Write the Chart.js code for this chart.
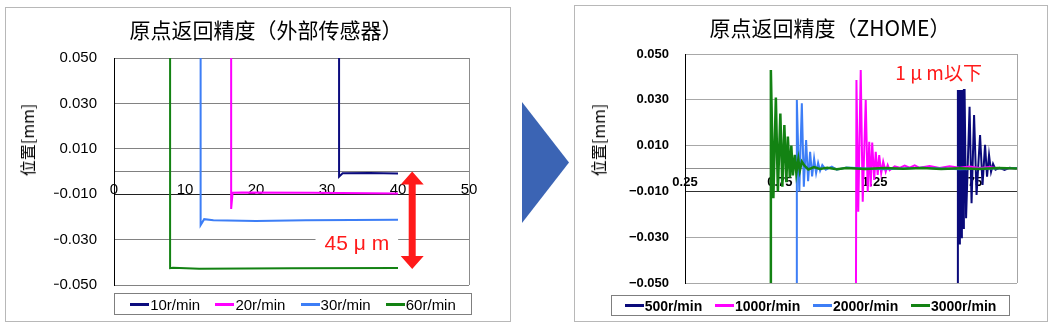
<!DOCTYPE html>
<html>
<head>
<meta charset="utf-8">
<script src="https://cdn.jsdelivr.net/npm/chart.js@4.4.1/dist/chart.umd.min.js"></script>
<style>
  html, body { margin: 0; padding: 0; background: #fff; }
  body { width: 1052px; height: 323px; position: relative; overflow: hidden; font-family: "Liberation Sans", Arial, sans-serif; }
  .panel { position: absolute; box-sizing: border-box; border: 1px solid #b8b8b8; }
  .title { position: absolute; text-align: center; font-family: "Noto Sans CJK SC", sans-serif; font-size: 21px; line-height: 24px; color: #000; white-space: nowrap; }
  .ytitle { position: absolute; font-family: "Noto Sans CJK SC", sans-serif; font-size: 16px; line-height: 16px; transform: translate(-50%, -50%) rotate(-90deg); white-space: nowrap; }
  .legend { position: absolute; box-sizing: border-box; border: 1px solid #7f7f7f; display: flex; justify-content: space-evenly; align-items: center; color: #000; }
  .legend .item { display: flex; align-items: center; white-space: nowrap; }
  .legend i { display: inline-block; width: 19px; height: 3px; margin-right: 1px; }
  canvas { position: absolute; top: 0; }
  .arrow { position: absolute; left: 522px; top: 102px; width: 47px; height: 121px; background: #3b64b4; clip-path: polygon(0 0, 100% 50%, 0 100%); }
</style>
</head>
<body>
<div class="panel" style="left:5px;top:7px;width:506px;height:315px;"></div>
<div class="panel" style="left:574px;top:5px;width:474px;height:317px;"></div>
<div class="arrow"></div>

<canvas id="leftChart" width="520" height="323" style="left:0;"></canvas>
<canvas id="rightChart" width="482" height="323" style="left:570px;"></canvas>

<div class="title" style="left:0;width:532px;top:17px;">原点返回精度（外部传感器）</div>
<div class="title" style="left:630px;width:400px;top:15px;">原点返回精度（ZHOME）</div>
<div class="ytitle" style="left:27px;top:140px;">位置[mm]</div>
<div class="ytitle" style="left:598px;top:140px;">位置[mm]</div>

<div class="legend" id="leftLegend" style="left:114px;top:293px;width:358px;height:22px;font-size:15px;"></div>
<div class="legend" id="rightLegend" style="left:611px;top:295px;width:399px;height:21px;font-size:14px;font-weight:bold;"></div>

<script>
// ---- left chart (external sensor) ----
const leftNames = ['10r/min', '20r/min', '30r/min', '60r/min'];
const leftColors = ['#0c0c7e', '#ff00ff', '#3d7ef6', '#138213'];
const xL10 = [31.7, 31.7, 32.2, 36, 40];
const yL10 = [0.06, -0.0023, -0.0008, -0.0007, -0.0009];
const xL20 = [16.5, 16.5, 16.7, 18, 28, 40];
const yL20 = [0.06, -0.0165, -0.0094, -0.0093, -0.0094, -0.0097];
const xL30 = [12.2, 12.2, 12.7, 14, 20, 27, 40];
const yL30 = [0.06, -0.0236, -0.021, -0.0215, -0.0218, -0.0215, -0.0213];
const xL60 = [7.9, 7.9, 8.3, 12, 25, 40];
const yL60 = [0.06, -0.0426, -0.0424, -0.0428, -0.0426, -0.0425];

// ---- right chart (ZHOME) ----
const rightNames = ['500r/min', '1000r/min', '2000r/min', '3000r/min'];
const rightColors = ['#0a0a7a', '#ff00ff', '#3d7ef6', '#138213'];
const xR500 = [1.6858, 1.6884, 1.6911, 1.6937, 1.6963, 1.6989, 1.7016, 1.7042, 1.7068, 1.7095, 1.7121, 1.7147, 1.7174, 1.72, 1.7237, 1.7316, 1.75, 1.7605, 1.7737, 1.7868, 1.8053, 1.8184, 1.8316, 1.8421, 1.8526, 1.8632, 1.8737, 1.8868, 1.9079, 1.9342, 1.9605, 1.9974];
const yR500 = [-0.06, 0.0343, -0.02, 0.0343, -0.0327, 0.0343, -0.015, 0.0343, -0.03, 0.0343, -0.01, 0.0343, -0.026, 0.0343, 0.0343, -0.0217, 0.027, -0.0152, 0.0234, -0.0116, 0.0146, -0.0072, 0.0103, -0.0036, 0.0059, -0.0014, 0.002, -0.0005, 0.0003, -0.0006, 0.0003, 0.0];
const xR1000 = [1.151, 1.1537, 1.1632, 1.1763, 1.1868, 1.2026, 1.2132, 1.2211, 1.2289, 1.2368, 1.2474, 1.2553, 1.2658, 1.2737, 1.2842, 1.2947, 1.3079, 1.3184, 1.3289, 1.3553, 1.3816, 1.4079, 1.4342, 1.4605, 1.4868, 1.5395, 1.5921, 1.6447, 1.6974, 1.75, 1.8026, 1.8553, 1.9, 2.0];
const yR1000 = [-0.06, 0.0386, -0.0189, 0.043, -0.0145, 0.0299, -0.0101, 0.0117, -0.008, 0.0113, -0.005, 0.0073, -0.0028, 0.0059, -0.002, 0.003, -0.0014, 0.0015, -0.0007, 0.0009, 0.0003, 0.0013, 0.0004, 0.0014, 0.0003, 0.0011, 0.0002, 0.001, 0.0003, 0.0009, 0.0002, 0.0006, 0.0001, 0.0001];
const xR2000 = [0.8374, 0.8395, 0.8526, 0.8658, 0.8763, 0.8884, 0.8989, 0.9095, 0.92, 0.9305, 0.9411, 0.9516, 0.9621, 0.9737, 0.9921, 1.0237, 1.05, 1.1, 1.3, 1.5, 1.7, 2.0];
const yR2000 = [-0.06, 0.0299, -0.01, 0.0285, -0.008, 0.0124, -0.0055, 0.0073, -0.0035, 0.0044, -0.002, 0.0025, -0.001, 0.0015, -0.0005, 0.0008, -0.0005, 0.0004, -0.0003, 0.0003, -0.0003, 0.0002];
const xR3000 = [0.7, 0.7026, 0.7158, 0.7289, 0.7395, 0.7526, 0.7632, 0.7737, 0.7842, 0.7921, 0.8026, 0.8105, 0.8184, 0.8289, 0.8368, 0.8474, 0.8553, 0.8658, 0.88, 0.9, 0.93, 0.96, 1.0, 1.05, 1.1, 1.2, 1.3, 1.4, 1.5, 1.6, 1.7, 1.8, 1.9, 2.0];
const yR3000 = [-0.06, 0.043, -0.013, 0.031, -0.01, 0.024, -0.008, 0.019, -0.006, 0.014, -0.004, 0.01, -0.003, 0.006, -0.002, 0.004, -0.001, 0.003, 0.0012, -0.0004, 0.0006, -0.0002, 0.0003, -0.0003, 0.0002, -0.0002, 0.0002, -0.0001, 0.0002, -0.0002, 0.0001, -0.0002, 0.0002, 0.0];
const rightTicksX = [0.25, 0.75, 1.25, 1.75];

function pts(xs, ys) {
  return xs.map((x, i) => ({x: x, y: ys[i]}));
}

function fmtY(v) {
  return (v < 0 ? '\u2212' : '') + Math.abs(v).toFixed(3);
}

function buildLegend(id, names, colors) {
  const box = document.getElementById(id);
  names.forEach((n, i) => {
    const s = document.createElement('span');
    s.className = 'item';
    s.innerHTML = '<i style="background:' + colors[i] + '"></i>' + n;
    box.appendChild(s);
  });
}
buildLegend('leftLegend', leftNames, leftColors);
buildLegend('rightLegend', rightNames, rightColors);

Chart.defaults.font.family = '"Liberation Sans", Arial, sans-serif';
Chart.defaults.color = '#000';

// right edge of the plot area
const frame = {
  id: 'frame',
  beforeDatasetsDraw(chart, args, opts) {
    const a = chart.chartArea;
    const ctx = chart.ctx;
    ctx.save();
    ctx.strokeStyle = opts.color;
    ctx.lineWidth = 1;
    ctx.beginPath();
    ctx.moveTo(Math.round(a.right) + 0.5, a.top);
    ctx.lineTo(Math.round(a.right) + 0.5, a.bottom);
    ctx.stroke();
    ctx.restore();
  }
};

// 45um note + red double arrow
const gapNote = {
  id: 'gapNote',
  afterDatasetsDraw(chart) {
    const ctx = chart.ctx;
    const x = chart.scales.x, y = chart.scales.y;
    ctx.save();
    // label with white box
    ctx.font = '21px "Liberation Sans", Arial, sans-serif';
    const txt = '45 \u03bc m';
    const w = ctx.measureText(txt).width;
    const cx = x.getPixelForValue(34.2), cy = y.getPixelForValue(-0.032);
    ctx.fillStyle = '#fff';
    ctx.fillRect(cx - w / 2 - 9, cy - 12, w + 18, 24);
    ctx.fillStyle = '#ff1a1a';
    ctx.textAlign = 'center';
    ctx.textBaseline = 'middle';
    ctx.fillText(txt, cx, cy);
    // arrow
    const ax = x.getPixelForValue(42);
    const top = y.getPixelForValue(0);
    const bot = y.getPixelForValue(-0.043);
    ctx.beginPath();
    ctx.moveTo(ax, top);
    ctx.lineTo(ax + 11.5, top + 13);
    ctx.lineTo(ax + 3.5, top + 13);
    ctx.lineTo(ax + 3.5, bot - 13);
    ctx.lineTo(ax + 11.5, bot - 13);
    ctx.lineTo(ax, bot);
    ctx.lineTo(ax - 11.5, bot - 13);
    ctx.lineTo(ax - 3.5, bot - 13);
    ctx.lineTo(ax - 3.5, top + 13);
    ctx.lineTo(ax - 11.5, top + 13);
    ctx.closePath();
    ctx.fill();
    ctx.restore();
  }
};

const subNote = {
  id: 'subNote',
  afterDatasetsDraw(chart) {
    const ctx = chart.ctx;
    ctx.save();
    ctx.font = '19px "Noto Sans CJK JP", sans-serif';
    ctx.fillStyle = '#ff1a1a';
    ctx.textAlign = 'center';
    ctx.textBaseline = 'middle';
    ctx.fillText('1 \u03bc m以下', chart.scales.x.getPixelForValue(1.587), chart.scales.y.getPixelForValue(0.0417));
    ctx.restore();
  }
};

function yScale(gridColor, darkColor, font, pad) {
  return {
    min: -0.05, max: 0.05,
    afterFit(scale) { scale.width = 60; },
    ticks: { stepSize: 0.02, callback: fmtY, font: font, padding: pad, color: '#000' },
    grid: {
      drawTicks: false,
      color: c => (c.tick && Math.abs(c.tick.value + 0.01) < 1e-9) ? darkColor : gridColor
    },
    border: { color: '#000', width: 1 }
  };
}

const lineStyle = { showLine: true, pointRadius: 0, borderWidth: 2, tension: 0, fill: false };

// left chart
new Chart(document.getElementById('leftChart'), {
  type: 'scatter',
  data: {
    datasets: [
      Object.assign({ label: leftNames[0], data: pts(xL10, yL10), borderColor: leftColors[0], order: 3 }, lineStyle),
      Object.assign({ label: leftNames[1], data: pts(xL20, yL20), borderColor: leftColors[1], order: 2 }, lineStyle),
      Object.assign({ label: leftNames[2], data: pts(xL30, yL30), borderColor: leftColors[2], order: 1 }, lineStyle),
      Object.assign({ label: leftNames[3], data: pts(xL60, yL60), borderColor: leftColors[3], order: 0 }, lineStyle)
    ]
  },
  options: {
    responsive: false,
    animation: false,
    layout: { padding: { left: 54, right: 51, top: 58, bottom: 38 } },
    plugins: { legend: { display: false }, tooltip: { enabled: false }, frame: { color: '#8c8c8c' } },
    scales: {
      x: {
        type: 'linear', min: 0, max: 50,
        position: { y: 0 },
        ticks: { stepSize: 10, maxRotation: 0, padding: 9, font: { size: 15 }, color: '#000' },
        grid: { display: false, drawTicks: false },
        border: { color: '#808080', width: 1 }
      },
      y: yScale('#828282', '#202020', { size: 15 }, 17)
    }
  },
  plugins: [frame, gapNote]
});

// right chart
new Chart(document.getElementById('rightChart'), {
  type: 'scatter',
  data: {
    datasets: [
      Object.assign({ label: rightNames[0], data: pts(xR500, yR500), borderColor: rightColors[0], order: 3 }, lineStyle),
      Object.assign({ label: rightNames[1], data: pts(xR1000, yR1000), borderColor: rightColors[1], order: 2 }, lineStyle),
      Object.assign({ label: rightNames[2], data: pts(xR2000, yR2000), borderColor: rightColors[2], order: 1 }, lineStyle),
      Object.assign({ label: rightNames[3], data: pts(xR3000, yR3000), borderColor: rightColors[3], order: 0 }, lineStyle, { borderWidth: 2.5 })
    ]
  },
  options: {
    responsive: false,
    animation: false,
    layout: { padding: { left: 55, right: 35, top: 54, bottom: 40 } },
    plugins: { legend: { display: false }, tooltip: { enabled: false }, frame: { color: '#a6a6a6' } },
    scales: {
      x: {
        type: 'linear', min: 0.25, max: 2.0,
        position: { y: 0 },
        afterBuildTicks(scale) { scale.ticks = rightTicksX.map(v => ({ value: v })); },
        ticks: { maxRotation: 0, padding: 6, font: { size: 13, weight: 'bold' }, color: '#000', callback: v => v.toFixed(2) },
        grid: { display: false, drawTicks: false },
        border: { color: '#909090', width: 1 }
      },
      y: yScale('#a8a8a8', '#303030', { size: 13, weight: 'bold' }, 16)
    }
  },
  plugins: [frame, subNote]
});
</script>
</body>
</html>
